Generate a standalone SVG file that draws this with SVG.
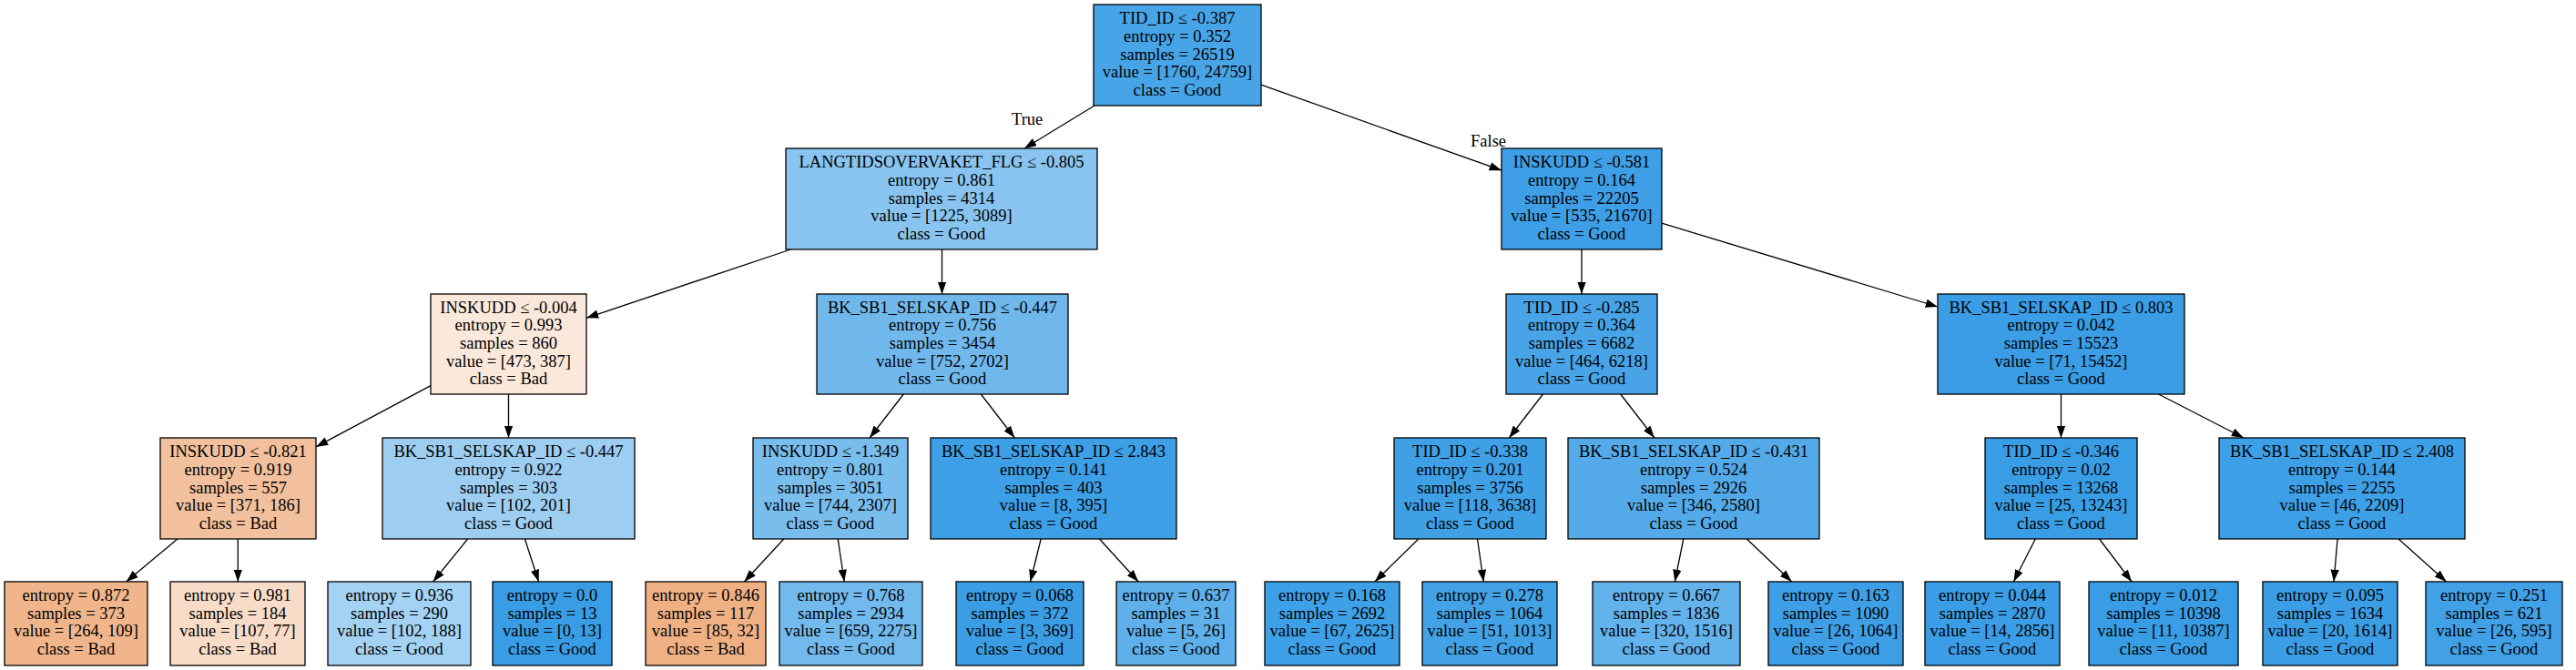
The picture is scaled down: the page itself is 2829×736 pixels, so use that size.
<svg xmlns="http://www.w3.org/2000/svg" width="2829" height="736" viewBox="0 0 2829 736">
<style>
rect{stroke:#000;stroke-width:1.3}
text{font-family:"Liberation Serif","Times New Roman",serif;font-size:18.5px;fill:#000;text-anchor:middle}
.e line{stroke:#000;stroke-width:1.3;marker-end:url(#ah)}
.lbl{text-anchor:start}
</style>
<defs>
<marker id="ah" markerUnits="userSpaceOnUse" markerWidth="14" markerHeight="10" refX="13.3" refY="4.7" orient="auto">
<path d="M0,0 L13.3,4.7 L0,9.4 z" fill="#000"/>
</marker>
</defs>
<rect x="0" y="0" width="2829" height="736" fill="#fff" style="stroke:none"/>
<g id="edges" class="e">
<line x1="1202" y1="116" x2="1125" y2="163"/>
<line x1="1385" y1="93.2" x2="1649" y2="187.2"/>
<line x1="868.5" y1="274" x2="644" y2="349.3"/>
<line x1="1034.5" y1="274" x2="1034.5" y2="323"/>
<line x1="1737" y1="274" x2="1737" y2="323"/>
<line x1="1825" y1="245.2" x2="2128" y2="337"/>
<line x1="473" y1="423.6" x2="347" y2="490.9"/>
<line x1="558.5" y1="433" x2="558.5" y2="481"/>
<line x1="992.3" y1="433" x2="955.1" y2="481"/>
<line x1="1077.3" y1="433" x2="1114.3" y2="481"/>
<line x1="1694.5" y1="433" x2="1657.4" y2="481"/>
<line x1="1779.7" y1="433" x2="1816.9" y2="481"/>
<line x1="2263.5" y1="433" x2="2263.5" y2="481"/>
<line x1="2370.5" y1="433" x2="2464" y2="481"/>
<line x1="195" y1="592" x2="138.6" y2="639"/>
<line x1="261.3" y1="592" x2="261.3" y2="639"/>
<line x1="513.7" y1="592" x2="475.7" y2="639"/>
<line x1="576.4" y1="592" x2="591.6" y2="639"/>
<line x1="860.8" y1="592" x2="817.4" y2="639"/>
<line x1="920.2" y1="592" x2="927.2" y2="639"/>
<line x1="1143.2" y1="592" x2="1131.5" y2="639"/>
<line x1="1207.4" y1="592" x2="1250.2" y2="639"/>
<line x1="1557.9" y1="592" x2="1509.9" y2="639"/>
<line x1="1622.5" y1="592" x2="1629.3" y2="639"/>
<line x1="1848.8" y1="592" x2="1839.3" y2="639"/>
<line x1="1918.3" y1="592" x2="1967.7" y2="639"/>
<line x1="2235.3" y1="592" x2="2211.4" y2="639"/>
<line x1="2305.5" y1="592" x2="2341.1" y2="639"/>
<line x1="2567.1" y1="592" x2="2563" y2="639"/>
<line x1="2634" y1="592" x2="2686.6" y2="639"/>
<text class="lbl" x="1111" y="137">True</text>
<text class="lbl" x="1615" y="161">False</text>
</g>
<g id="n0"><rect x="1201" y="5" width="184" height="111" fill="#47a4e7"/><text x="1293"><tspan x="1293" y="26.3">TID_ID ≤ -0.387</tspan><tspan x="1293" y="45.9">entropy = 0.352</tspan><tspan x="1293" y="65.5">samples = 26519</tspan><tspan x="1293" y="85.1">value = [1760, 24759]</tspan><tspan x="1293" y="104.7">class = Good</tspan></text></g>
<g id="n1"><rect x="863" y="163" width="342" height="111" fill="#88c4ef"/><text><tspan x="1034" y="184.3">LANGTIDSOVERVAKET_FLG ≤ -0.805</tspan><tspan x="1034" y="203.9">entropy = 0.861</tspan><tspan x="1034" y="223.5">samples = 4314</tspan><tspan x="1034" y="243.1">value = [1225, 3089]</tspan><tspan x="1034" y="262.7">class = Good</tspan></text></g>
<g id="n2"><rect x="1649" y="163" width="176" height="111" fill="#3e9fe6"/><text><tspan x="1737" y="184.3">INSKUDD ≤ -0.581</tspan><tspan x="1737" y="203.9">entropy = 0.164</tspan><tspan x="1737" y="223.5">samples = 22205</tspan><tspan x="1737" y="243.1">value = [535, 21670]</tspan><tspan x="1737" y="262.7">class = Good</tspan></text></g>
<g id="n3"><rect x="473" y="323" width="171" height="110" fill="#fae8db"/><text><tspan x="558.5" y="343.8">INSKUDD ≤ -0.004</tspan><tspan x="558.5" y="363.4">entropy = 0.993</tspan><tspan x="558.5" y="383">samples = 860</tspan><tspan x="558.5" y="402.6">value = [473, 387]</tspan><tspan x="558.5" y="422.2">class = Bad</tspan></text></g>
<g id="n4"><rect x="897" y="323" width="276" height="110" fill="#70b8ec"/><text><tspan x="1035" y="343.8">BK_SB1_SELSKAP_ID ≤ -0.447</tspan><tspan x="1035" y="363.4">entropy = 0.756</tspan><tspan x="1035" y="383">samples = 3454</tspan><tspan x="1035" y="402.6">value = [752, 2702]</tspan><tspan x="1035" y="422.2">class = Good</tspan></text></g>
<g id="n5"><rect x="1654" y="323" width="166" height="110" fill="#48a4e7"/><text><tspan x="1737" y="343.8">TID_ID ≤ -0.285</tspan><tspan x="1737" y="363.4">entropy = 0.364</tspan><tspan x="1737" y="383">samples = 6682</tspan><tspan x="1737" y="402.6">value = [464, 6218]</tspan><tspan x="1737" y="422.2">class = Good</tspan></text></g>
<g id="n6"><rect x="2128" y="323" width="271" height="110" fill="#3a9de5"/><text><tspan x="2263.5" y="343.8">BK_SB1_SELSKAP_ID ≤ 0.803</tspan><tspan x="2263.5" y="363.4">entropy = 0.042</tspan><tspan x="2263.5" y="383">samples = 15523</tspan><tspan x="2263.5" y="402.6">value = [71, 15452]</tspan><tspan x="2263.5" y="422.2">class = Good</tspan></text></g>
<g id="n7"><rect x="176" y="481" width="171" height="111" fill="#f2c09c"/><text><tspan x="261.5" y="502.3">INSKUDD ≤ -0.821</tspan><tspan x="261.5" y="521.9">entropy = 0.919</tspan><tspan x="261.5" y="541.5">samples = 557</tspan><tspan x="261.5" y="561.1">value = [371, 186]</tspan><tspan x="261.5" y="580.7">class = Bad</tspan></text></g>
<g id="n8"><rect x="420" y="481" width="277" height="111" fill="#9dcef2"/><text><tspan x="558.5" y="502.3">BK_SB1_SELSKAP_ID ≤ -0.447</tspan><tspan x="558.5" y="521.9">entropy = 0.922</tspan><tspan x="558.5" y="541.5">samples = 303</tspan><tspan x="558.5" y="561.1">value = [102, 201]</tspan><tspan x="558.5" y="580.7">class = Good</tspan></text></g>
<g id="n9"><rect x="827" y="481" width="170" height="111" fill="#79bded"/><text><tspan x="912" y="502.3">INSKUDD ≤ -1.349</tspan><tspan x="912" y="521.9">entropy = 0.801</tspan><tspan x="912" y="541.5">samples = 3051</tspan><tspan x="912" y="561.1">value = [744, 2307]</tspan><tspan x="912" y="580.7">class = Good</tspan></text></g>
<g id="n10"><rect x="1022" y="481" width="270" height="111" fill="#3d9fe6"/><text><tspan x="1157" y="502.3">BK_SB1_SELSKAP_ID ≤ 2.843</tspan><tspan x="1157" y="521.9">entropy = 0.141</tspan><tspan x="1157" y="541.5">samples = 403</tspan><tspan x="1157" y="561.1">value = [8, 395]</tspan><tspan x="1157" y="580.7">class = Good</tspan></text></g>
<g id="n11"><rect x="1531" y="481" width="167" height="111" fill="#3fa0e6"/><text><tspan x="1614.5" y="502.3">TID_ID ≤ -0.338</tspan><tspan x="1614.5" y="521.9">entropy = 0.201</tspan><tspan x="1614.5" y="541.5">samples = 3756</tspan><tspan x="1614.5" y="561.1">value = [118, 3638]</tspan><tspan x="1614.5" y="580.7">class = Good</tspan></text></g>
<g id="n12"><rect x="1722" y="481" width="276" height="111" fill="#54aae8"/><text><tspan x="1860" y="502.3">BK_SB1_SELSKAP_ID ≤ -0.431</tspan><tspan x="1860" y="521.9">entropy = 0.524</tspan><tspan x="1860" y="541.5">samples = 2926</tspan><tspan x="1860" y="561.1">value = [346, 2580]</tspan><tspan x="1860" y="580.7">class = Good</tspan></text></g>
<g id="n13"><rect x="2180" y="481" width="167" height="111" fill="#399de5"/><text><tspan x="2263.5" y="502.3">TID_ID ≤ -0.346</tspan><tspan x="2263.5" y="521.9">entropy = 0.02</tspan><tspan x="2263.5" y="541.5">samples = 13268</tspan><tspan x="2263.5" y="561.1">value = [25, 13243]</tspan><tspan x="2263.5" y="580.7">class = Good</tspan></text></g>
<g id="n14"><rect x="2437" y="481" width="270" height="111" fill="#3d9fe6"/><text><tspan x="2572" y="502.3">BK_SB1_SELSKAP_ID ≤ 2.408</tspan><tspan x="2572" y="521.9">entropy = 0.144</tspan><tspan x="2572" y="541.5">samples = 2255</tspan><tspan x="2572" y="561.1">value = [46, 2209]</tspan><tspan x="2572" y="580.7">class = Good</tspan></text></g>
<g id="l1"><rect x="5" y="639" width="157" height="92" fill="#f0b58b"/><text><tspan x="83.5" y="660">entropy = 0.872</tspan><tspan x="83.5" y="679.6">samples = 373</tspan><tspan x="83.5" y="699.2">value = [264, 109]</tspan><tspan x="83.5" y="718.8">class = Bad</tspan></text></g>
<g id="l2"><rect x="187" y="639" width="148" height="92" fill="#f8dcc7"/><text><tspan x="261" y="660">entropy = 0.981</tspan><tspan x="261" y="679.6">samples = 184</tspan><tspan x="261" y="699.2">value = [107, 77]</tspan><tspan x="261" y="718.8">class = Bad</tspan></text></g>
<g id="l3"><rect x="360" y="639" width="157" height="92" fill="#a4d2f3"/><text><tspan x="438.5" y="660">entropy = 0.936</tspan><tspan x="438.5" y="679.6">samples = 290</tspan><tspan x="438.5" y="699.2">value = [102, 188]</tspan><tspan x="438.5" y="718.8">class = Good</tspan></text></g>
<g id="l4"><rect x="541" y="639" width="131" height="92" fill="#399de5"/><text><tspan x="606.5" y="660">entropy = 0.0</tspan><tspan x="606.5" y="679.6">samples = 13</tspan><tspan x="606.5" y="699.2">value = [0, 13]</tspan><tspan x="606.5" y="718.8">class = Good</tspan></text></g>
<g id="l5"><rect x="709" y="639" width="132" height="92" fill="#efb084"/><text><tspan x="775" y="660">entropy = 0.846</tspan><tspan x="775" y="679.6">samples = 117</tspan><tspan x="775" y="699.2">value = [85, 32]</tspan><tspan x="775" y="718.8">class = Bad</tspan></text></g>
<g id="l6"><rect x="856" y="639" width="157" height="92" fill="#72b9ed"/><text><tspan x="934.5" y="660">entropy = 0.768</tspan><tspan x="934.5" y="679.6">samples = 2934</tspan><tspan x="934.5" y="699.2">value = [659, 2275]</tspan><tspan x="934.5" y="718.8">class = Good</tspan></text></g>
<g id="l7"><rect x="1050" y="639" width="140" height="92" fill="#3b9ee5"/><text><tspan x="1120" y="660">entropy = 0.068</tspan><tspan x="1120" y="679.6">samples = 372</tspan><tspan x="1120" y="699.2">value = [3, 369]</tspan><tspan x="1120" y="718.8">class = Good</tspan></text></g>
<g id="l8"><rect x="1226" y="639" width="131" height="92" fill="#5fb0ea"/><text><tspan x="1291.5" y="660">entropy = 0.637</tspan><tspan x="1291.5" y="679.6">samples = 31</tspan><tspan x="1291.5" y="699.2">value = [5, 26]</tspan><tspan x="1291.5" y="718.8">class = Good</tspan></text></g>
<g id="l9"><rect x="1389" y="639" width="148" height="92" fill="#3ea0e6"/><text><tspan x="1463" y="660">entropy = 0.168</tspan><tspan x="1463" y="679.6">samples = 2692</tspan><tspan x="1463" y="699.2">value = [67, 2625]</tspan><tspan x="1463" y="718.8">class = Good</tspan></text></g>
<g id="l10"><rect x="1562" y="639" width="148" height="92" fill="#43a2e6"/><text><tspan x="1636" y="660">entropy = 0.278</tspan><tspan x="1636" y="679.6">samples = 1064</tspan><tspan x="1636" y="699.2">value = [51, 1013]</tspan><tspan x="1636" y="718.8">class = Good</tspan></text></g>
<g id="l11"><rect x="1749" y="639" width="162" height="92" fill="#63b2eb"/><text><tspan x="1830" y="660">entropy = 0.667</tspan><tspan x="1830" y="679.6">samples = 1836</tspan><tspan x="1830" y="699.2">value = [320, 1516]</tspan><tspan x="1830" y="718.8">class = Good</tspan></text></g>
<g id="l12"><rect x="1942" y="639" width="148" height="92" fill="#3e9fe6"/><text><tspan x="2016" y="660">entropy = 0.163</tspan><tspan x="2016" y="679.6">samples = 1090</tspan><tspan x="2016" y="699.2">value = [26, 1064]</tspan><tspan x="2016" y="718.8">class = Good</tspan></text></g>
<g id="l13"><rect x="2114" y="639" width="148" height="92" fill="#3a9de5"/><text><tspan x="2188" y="660">entropy = 0.044</tspan><tspan x="2188" y="679.6">samples = 2870</tspan><tspan x="2188" y="699.2">value = [14, 2856]</tspan><tspan x="2188" y="718.8">class = Good</tspan></text></g>
<g id="l14"><rect x="2294" y="639" width="164" height="92" fill="#399de5"/><text><tspan x="2376" y="660">entropy = 0.012</tspan><tspan x="2376" y="679.6">samples = 10398</tspan><tspan x="2376" y="699.2">value = [11, 10387]</tspan><tspan x="2376" y="718.8">class = Good</tspan></text></g>
<g id="l15"><rect x="2485" y="639" width="148" height="92" fill="#3b9ee5"/><text><tspan x="2559" y="660">entropy = 0.095</tspan><tspan x="2559" y="679.6">samples = 1634</tspan><tspan x="2559" y="699.2">value = [20, 1614]</tspan><tspan x="2559" y="718.8">class = Good</tspan></text></g>
<g id="l16"><rect x="2664" y="639" width="150" height="92" fill="#42a1e6"/><text><tspan x="2739" y="660">entropy = 0.251</tspan><tspan x="2739" y="679.6">samples = 621</tspan><tspan x="2739" y="699.2">value = [26, 595]</tspan><tspan x="2739" y="718.8">class = Good</tspan></text></g>
</svg>
